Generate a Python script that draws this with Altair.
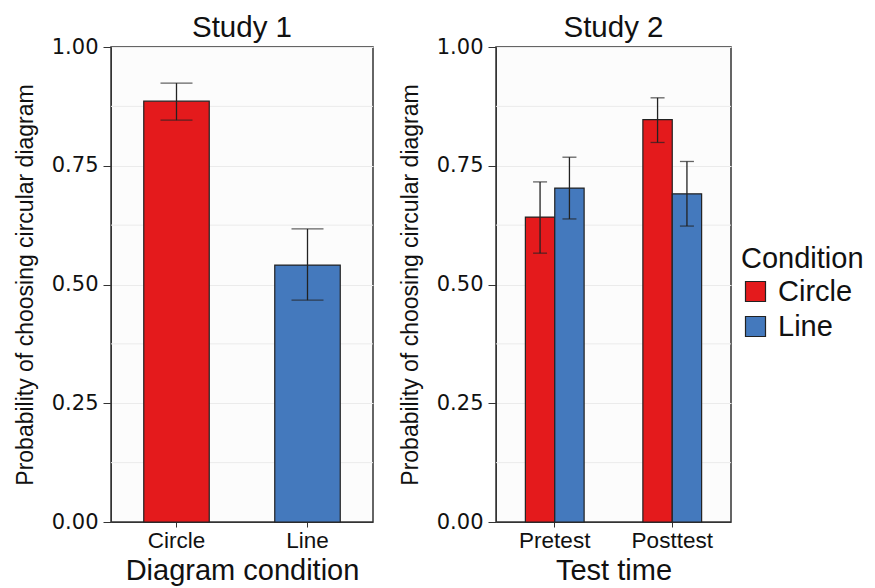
import altair as alt
import pandas as pd

# Study 1
conditions1 = ["Circle", "Line"]
means1 = [0.886, 0.541]
lower1 = [0.846, 0.467]
upper1 = [0.924, 0.617]

# Study 2
times2 = ["Pretest", "Pretest", "Posttest", "Posttest"]
conditions2 = ["Circle", "Line", "Circle", "Line"]
means2 = [0.642, 0.703, 0.847, 0.691]
lower2 = [0.566, 0.638, 0.799, 0.623]
upper2 = [0.716, 0.768, 0.893, 0.759]

time_order = ["Pretest", "Posttest"]
y_ticks = [0.0, 0.25, 0.5, 0.75, 1.0]
minor_grid = [0.125, 0.375, 0.625, 0.875]
colors = ["#E41A1C", "#4479BD"]

FONT = "Liberation Sans"
TICKFONT = "DejaVu Sans"
INK = "#222222"
TXT = "#111111"

df1 = pd.DataFrame({"Condition": conditions1, "Mean": means1, "Lower": lower1, "Upper": upper1})
df2 = pd.DataFrame({"Time": times2, "Condition": conditions2, "Mean": means2, "Lower": lower2, "Upper": upper2})
dfg = pd.DataFrame({"v": minor_grid})

color_scale = alt.Scale(domain=conditions1, range=colors)
y_scale = alt.Scale(domain=[0, 1], nice=False, zero=True)


def y_axis():
    return alt.Axis(values=y_ticks, format=".2f", title="Probability of choosing circular diagram",
                    labelFont=TICKFONT, labelFontSize=21, titleFontSize=23, titlePadding=14, tickSize=8,
                    grid=True, gridColor="#EBEBEB", domainColor="#333333", tickColor="#333333",
                    labelColor=TXT, titleColor=TXT, labelPadding=5)


def Y(field):
    return alt.Y(field, scale=y_scale, axis=y_axis())


def x_axis(title):
    return alt.Axis(title=title, labelAngle=0, labelFontSize=22.5,
                    titleFontSize=29, tickSize=5, labelPadding=2, titlePadding=5,
                    domainColor="#333333", tickColor="#333333",
                    labelColor=TXT, titleColor=TXT)


grid_layer = alt.Chart(dfg).mark_rule(color="#EBEBEB", strokeWidth=1).encode(y=Y("v:Q"))

# Panel 1
x1 = alt.X("Condition:N", sort=conditions1,
           scale=alt.Scale(paddingInner=0.5, paddingOuter=0.25),
           axis=x_axis("Diagram condition"))

base1 = alt.Chart(df1)
bars1 = base1.mark_bar(stroke=INK, strokeWidth=1.2).encode(
    x=x1,
    y=Y("Mean:Q"),
    color=alt.Color("Condition:N", scale=color_scale,
                    legend=alt.Legend(title="Condition")),
)
err1 = base1.mark_rule(color=INK, strokeWidth=1.3).encode(x=x1, y=Y("Lower:Q"), y2="Upper:Q")
capu1 = base1.mark_tick(color=INK, size=32, thickness=1.3).encode(x=x1, y=Y("Upper:Q"))
capl1 = base1.mark_tick(color=INK, size=32, thickness=1.3).encode(x=x1, y=Y("Lower:Q"))

panel1 = alt.layer(grid_layer, bars1, err1, capu1, capl1).properties(
    width=262, height=475,
    title=alt.TitleParams("Study 1", fontSize=29.5, fontWeight="normal", font=FONT, offset=-7, color=TXT),
)

# Panel 2
x2 = alt.X("Time:N", sort=time_order,
           scale=alt.Scale(paddingInner=0.5, paddingOuter=0.25),
           axis=x_axis("Test time"))
xo2 = alt.XOffset("Condition:N", sort=conditions1, scale=alt.Scale(paddingInner=0, paddingOuter=0))

base2 = alt.Chart(df2)
bars2 = base2.mark_bar(stroke=INK, strokeWidth=1.2).encode(
    x=x2, xOffset=xo2,
    y=Y("Mean:Q"),
    color=alt.Color("Condition:N", scale=color_scale,
                    legend=alt.Legend(title="Condition")),
)
err2 = base2.mark_rule(color=INK, strokeWidth=1.3).encode(x=x2, xOffset=xo2, y=Y("Lower:Q"), y2="Upper:Q")
capu2 = base2.mark_tick(color=INK, size=14, thickness=1.3).encode(x=x2, xOffset=xo2, y=Y("Upper:Q"))
capl2 = base2.mark_tick(color=INK, size=14, thickness=1.3).encode(x=x2, xOffset=xo2, y=Y("Lower:Q"))

panel2 = alt.layer(grid_layer, bars2, err2, capu2, capl2).properties(
    width=235, height=475,
    title=alt.TitleParams("Study 2", fontSize=29.5, fontWeight="normal", font=FONT, offset=-7, color=TXT),
)

chart = alt.hconcat(panel1, panel2, spacing=23).configure(
    font=FONT,
    padding={"left": 13, "top": 11, "right": 2, "bottom": 0},
).configure_view(
    stroke="#333333", strokeWidth=1.5, fill="#FCFCFC"
).configure_axis(
    labelFont=FONT, titleFont=FONT, titleFontWeight="normal"
).configure_legend(
    titleFont=FONT, labelFont=FONT,
    titleFontSize=29, labelFontSize=29, titleFontWeight="normal",
    symbolType="square", symbolSize=400, symbolStrokeColor=INK, symbolStrokeWidth=1.2,
    titleColor=TXT, labelColor=TXT, rowPadding=5, labelOffset=8,
    orient="none", legendX=630, legendY=198, padding=0, titlePadding=3,
).configure_title(font=FONT)

chart.save("out.html", embed_options={"renderer": "svg", "actions": False})
